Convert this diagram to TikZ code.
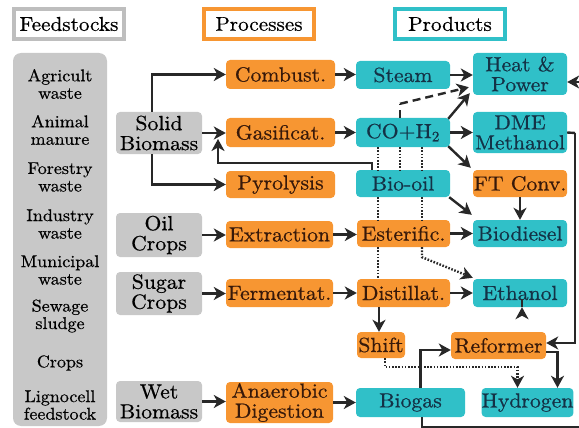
\documentclass[tikz,border=0pt]{standalone}
\usepackage{fontspec}
\newfontfamily\nf{lmroman10-regular}[Extension=.otf,FakeStretch=1.06,FakeBold=0.6]
\usetikzlibrary{arrows.meta,calc}
\definecolor{gfill}{RGB}{200,200,200}
\definecolor{gline}{RGB}{190,190,190}
\definecolor{ofill}{RGB}{247,150,50}
\definecolor{tfill}{RGB}{48,192,200}
\definecolor{otext}{RGB}{55,25,10}
\definecolor{ttext}{RGB}{20,50,70}
\definecolor{lcol}{RGB}{40,40,40}
\begin{document}
\begin{tikzpicture}[x=1pt,y=-1pt,
  base/.style={rounded corners=4pt,inner sep=0pt,align=center,font=\nf\fontsize{20.5}{20}\selectfont},
  gbox/.style={base,fill=gfill,text=black},
  obox/.style={base,fill=ofill,text=otext},
  tbox/.style={base,fill=tfill,text=ttext},
  hdr/.style={draw,line width=4pt,fill=white,minimum width=110pt,minimum height=30pt,inner sep=0pt,font=\nf\fontsize{20}{20}\selectfont},
  ftxt/.style={inner sep=0pt,align=center,font=\nf\fontsize{17}{17.5}\selectfont},
  tip/.style={-{Stealth[length=12pt,width=13pt,inset=3.5pt]}},
  arr/.style={draw=lcol,line width=2.4pt,tip},
  ln/.style={draw=lcol,line width=2.4pt},
  dots/.style={draw=lcol,line width=2.4pt,dash pattern=on 1.6pt off 1.6pt},
  dsh/.style={draw=lcol,line width=2.4pt,dash pattern=on 8pt off 5pt}]
\useasboundingbox (0,0) rectangle (579,428);
% headers
\node[hdr,draw=gline] (hf) at (69,24) {Feedstocks};
\node[hdr,draw=ofill] (hpr) at (259,24) {Processes};
\node[hdr,draw=tfill] (hpd) at (450,24) {Products};
% feedstock column
\node[gbox,minimum width=94pt,minimum height=373pt,rounded corners=8pt] (fs) at (60,239.5) {};
\node[ftxt] (f1) at (60,84) {Agricult\\waste};
\node[ftxt] (f2) at (60,130) {Animal\\manure};
\node[ftxt] (f3) at (60,177) {Forestry\\waste};
\node[ftxt] (f4) at (60,224) {Industry\\waste};
\node[ftxt] (f5) at (60,270) {Municipal\\waste};
\node[ftxt] (f6) at (60,316) {Sewage\\sludge};
\node[ftxt] (f7) at (60,363) {Crops};
\node[ftxt] (f8) at (60,405) {Lignocell\\feedstock};
% feedstock groups
\node[gbox,minimum width=86pt,minimum height=42pt] (sb) at (159,133) {Solid\\Biomass};
\node[gbox,minimum width=86pt,minimum height=44pt] (oil) at (159,235) {Oil\\Crops};
\node[gbox,minimum width=86pt,minimum height=43pt] (sug) at (159,293.5) {Sugar\\Crops};
\node[gbox,minimum width=86pt,minimum height=41pt] (wet) at (159,401.5) {Wet\\Biomass};
% processes
\node[obox,minimum width=109pt,minimum height=29pt] (comb) at (280.5,74.5) {Combust.};
\node[obox,minimum width=109pt,minimum height=29pt] (gas) at (280.5,132.5) {Gasificat.};
\node[obox,minimum width=109pt,minimum height=27pt] (pyr) at (280.5,184.5) {Pyrolysis};
\node[obox,minimum width=107pt,minimum height=27pt] (ext) at (279.5,234.5) {Extraction};
\node[obox,minimum width=107pt,minimum height=28pt] (fer) at (279.5,293) {Fermentat.};
\node[obox,minimum width=107pt,minimum height=41pt] (ana) at (279.5,402.5) {Anaerobic\\Digestion};
% middle column
\node[tbox,minimum width=94pt,minimum height=28pt] (steam) at (403,75) {Steam};
\node[tbox,minimum width=94pt,minimum height=29pt] (co) at (403,132.5) {CO+H\textsubscript{2}};
\node[tbox,minimum width=94pt,minimum height=27pt] (bio) at (403,183.5) {Bio-oil};
\node[obox,minimum width=93pt,minimum height=27pt] (est) at (403.5,233.5) {Esterific.};
\node[obox,minimum width=93pt,minimum height=28pt] (dist) at (403.5,293) {Distillat.};
\node[obox,minimum width=48pt,minimum height=26pt] (shift) at (381,345) {Shift};
\node[tbox,minimum width=109pt,minimum height=29pt] (biogas) at (410.5,402.5) {Biogas};
% products
\node[tbox,minimum width=94pt,minimum height=42pt] (hp) at (520,74) {Heat \&\\Power};
\node[tbox,minimum width=94pt,minimum height=41pt] (dme) at (520,132.5) {DME\\Methanol};
\node[obox,minimum width=94pt,minimum height=27pt] (ft) at (520,183.5) {FT Conv.};
\node[tbox,minimum width=94pt,minimum height=27pt] (bd) at (520,233.5) {Biodiesel};
\node[tbox,minimum width=94pt,minimum height=28pt] (eth) at (520,293) {Ethanol};
\node[obox,minimum width=95pt,minimum height=27pt] (ref) at (498.5,345.5) {Reformer};
\node[tbox,minimum width=91pt,minimum height=29pt] (h2) at (527.5,402.5) {Hydrogen};
% helper coordinates
\coordinate (fbmid) at (218,163);
\coordinate (fbtip) at (218,139);
\coordinate (dmeA) at (575,133);
\coordinate (dmeB) at (575,343);
\coordinate (bgA) at (422,427);
\coordinate (bgB) at (582,427);
\coordinate (bgC) at (582,82);
% connectors
\draw[arr] ($(sb.north)+(-7,0)$) |- (comb.west);
\draw[arr] ($(sb.south)+(-7,0)$) |- (pyr.west);
\draw[arr] (sb.east) -- (sb.east -| gas.west);
\draw[arr] ($(bio.north)+(-31,0)$) |- (fbmid) -- (fbtip);
\draw[arr] (comb.east) -- (comb.east -| steam.west);
\draw[arr] (steam.east) -- (steam.east -| hp.west);
\draw[arr] (gas.east) -- (gas.east -| co.west);
\draw[arr] (co.east) -- (co.east -| dme.west);
\draw[arr] ($(co.north east)+(-2,1)$) -- ($(hp.south west)+(-3,-2)$);
\draw[dsh] ($(co.north)+(-3,0)$) -- ++(0,-14) coordinate (dshk);
\draw[dsh,tip] (dshk) -- ($(hp.south west)+(-4,-8)$);
\draw[arr] ($(co.south east)+(-2,-1)$) -- ($(ft.north west)+(-2,-2)$);
\draw[dots] ($(co.south)+(-25,0)$) -- ($(bio.north)+(-25,0)$);
\draw[dots] ($(co.south)+(-3,0)$) -- ($(bio.north)+(-3,0)$);
\draw[dots] ($(co.south)+(19,0)$) -- ($(bio.north)+(19,0)$);
\draw[arr] ($(bio.south east)+(-1,0)$) -- ($(bd.north west)+(-1,-5)$);
\draw[dots] ($(bio.south)+(-25,0)$) -- ($(est.north)+(-25.5,0)$);
\draw[dots] ($(bio.south)+(19,0)$) -- ($(est.north)+(18.5,0)$);
\draw[dots] ($(est.south)+(-25.5,0)$) -- ($(dist.north)+(-25.5,0)$);
\draw[dots,tip] ($(est.south)+(18.5,0)$) -- ++(0,10) -- ($(eth.north west)+(0,-1)$);
\draw[arr] (ft.south) -- (bd.north);
\draw[arr] (oil.east) -- (oil.east -| ext.west);
\draw[arr] (ext.east) -- (ext.east -| est.west);
\draw[arr] (est.east) -- (est.east -| bd.west);
\draw[arr] (sug.east) -- (sug.east -| fer.west);
\draw[arr] (fer.east) -- (fer.east -| dist.west);
\draw[arr] (dist.east) -- (dist.east -| eth.west);
\draw[arr] ($(dist.south)+(-24.5,0)$) -- ($(shift.north)+(-2,0)$);
\draw[arr] ($(eth.south)+(2,0)$) -- ($(eth.south)+(2,0)$ |- ref.north);
\draw[ln] (dme.east) -- (dmeA);
\draw[arr] (dmeA) -- (dmeB) -- (dmeB -| ref.east);
\draw[arr] ($(ref.east)+(0,6.5)$) -| ($(h2.north)+(30,0)$);
\draw[dots,tip] ($(shift.south)+(4,0)$) -- ++(0,9) -| ($(h2.north)+(-10,0)$);
\draw[arr] ($(biogas.north)+(10,0)$) |- ($(ref.west)+(0,4.5)$);
\draw[arr] ($(biogas.south)+(11.5,0)$) -- (bgA) -- (bgB) -- (bgC) -- (bgC -| hp.east);
\draw[arr] (wet.east) -- (wet.east -| ana.west);
\draw[arr] (ana.east) -- (ana.east -| biogas.west);
\end{tikzpicture}
\end{document}
